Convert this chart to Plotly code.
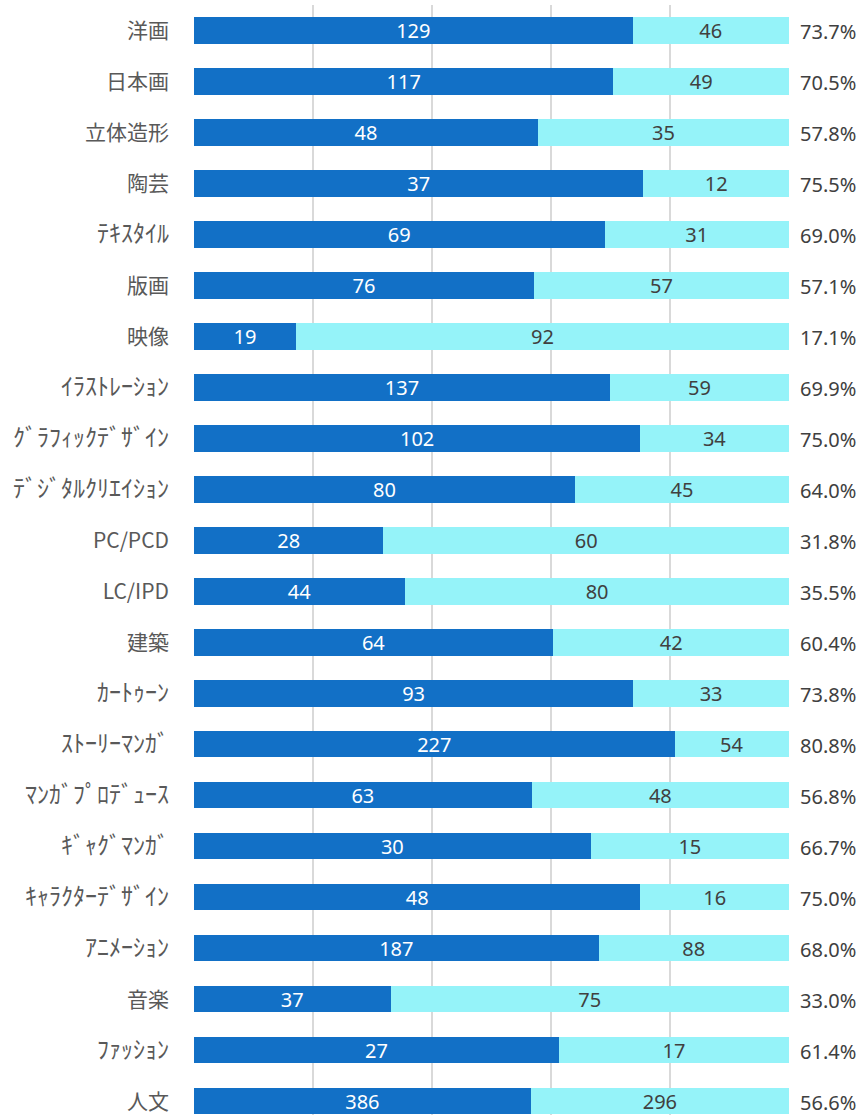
import re
import plotly.graph_objects as go

categories = ["洋画", "日本画", "立体造形", "陶芸", "ﾃｷｽﾀｲﾙ", "版画", "映像",
              "ｲﾗｽﾄﾚｰｼｮﾝ", "ｸﾞﾗﾌｨｯｸﾃﾞｻﾞｲﾝ", "ﾃﾞｼﾞﾀﾙｸﾘｴｲｼｮﾝ", "PC/PCD", "LC/IPD",
              "建築", "ｶｰﾄｩｰﾝ", "ｽﾄｰﾘｰﾏﾝｶﾞ", "ﾏﾝｶﾞﾌﾟﾛﾃﾞｭｰｽ", "ｷﾞｬｸﾞﾏﾝｶﾞ",
              "ｷｬﾗｸﾀｰﾃﾞｻﾞｲﾝ", "ｱﾆﾒｰｼｮﾝ", "音楽", "ﾌｧｯｼｮﾝ", "人文"]
dark_values = [129, 117, 48, 37, 69, 76, 19, 137, 102, 80, 28, 44, 64, 93, 227, 63, 30, 48, 187, 37, 27, 386]
light_values = [46, 49, 35, 12, 31, 57, 92, 59, 34, 45, 60, 80, 42, 33, 54, 48, 15, 16, 88, 75, 17, 296]
pct_labels = ["73.7%", "70.5%", "57.8%", "75.5%", "69.0%", "57.1%", "17.1%", "69.9%", "75.0%", "64.0%",
              "31.8%", "35.5%", "60.4%", "73.8%", "80.8%", "56.8%", "66.7%", "75.0%", "68.0%", "33.0%",
              "61.4%", "56.6%"]

pos = list(range(len(categories)))
num_font = "Noto Sans, Noto Sans CJK JP, sans-serif"


def tick_label(s):
    # half-width katakana labels are drawn a bit larger in the reference
    if re.search(r"[\uff61-\uff9f]", s):
        return '<span style="font-size:24px">' + s + "</span>"
    return s


fig = go.Figure()
fig.add_trace(go.Bar(
    y=pos, x=dark_values, orientation="h",
    marker=dict(color="#1270C6", line=dict(width=0)),
    text=[str(v) for v in dark_values], textposition="inside",
    insidetextanchor="middle", textangle=0, constraintext="none",
    textfont=dict(color="#FFFFFF", size=20, family=num_font),
    hoverinfo="skip",
))
fig.add_trace(go.Bar(
    y=pos, x=light_values, orientation="h",
    marker=dict(color="#95F3F9", line=dict(width=0)),
    text=[str(v) for v in light_values], textposition="inside",
    insidetextanchor="middle", textangle=0, constraintext="none",
    textfont=dict(color="#404040", size=20, family=num_font),
    hoverinfo="skip",
))

for p, lab in zip(pos, pct_labels):
    fig.add_annotation(x=1, xref="paper", y=p, yref="y", text=lab, showarrow=False,
                       xanchor="left", xshift=9, yshift=-1,
                       font=dict(size=20, color="#404040", family=num_font))

fig.update_layout(
    width=865, height=1115,
    margin=dict(l=194, r=76, t=5, b=0),
    barmode="stack", barnorm="fraction", bargap=0.49,
    plot_bgcolor="white", paper_bgcolor="white",
    showlegend=False,
    uniformtext=dict(mode=False),
)
fig.update_xaxes(range=[0, 1], tickvals=[0.2, 0.4, 0.6, 0.8, 1.0], showticklabels=False,
                 showgrid=True, gridcolor="#D9D9D9", gridwidth=2, zeroline=False,
                 showline=False, fixedrange=True)
fig.update_yaxes(range=[21.265, -0.5], tickvals=pos, ticktext=[tick_label(c) for c in categories],
                 showgrid=False, zeroline=False, showline=False, ticks="",
                 ticklabelstandoff=24,
                 tickfont=dict(size=21, color="#595959",
                               family="Noto Sans CJK JP, Noto Sans, sans-serif"),
                 fixedrange=True)

fig.write_html("out.html",
               config={"displayModeBar": False, "staticPlot": True},
               post_script="document.body.style.margin='0';document.body.style.overflow='hidden';")
